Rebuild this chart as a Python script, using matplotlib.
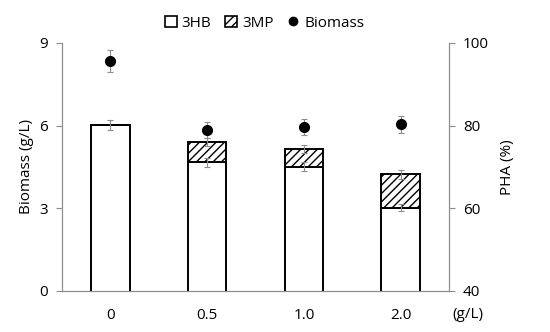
import numpy as np
import matplotlib.pyplot as plt
from matplotlib.patches import Patch
from matplotlib.lines import Line2D

plt.rcParams['font.family'] = ['Open Sans', 'DejaVu Sans']
plt.rcParams['hatch.linewidth'] = 1.0

# data
conc = ['0', '0.5', '1.0', '2.0']
hb = [80.2, 71.1, 70.1, 60.2]          # 3HB content (%)
hb_err = [1.2, 1.1, 1.0, 0.9]
total = [80.2, 76.1, 74.3, 68.2]       # 3HB + 3MP (%)
total_err = [0.0, 1.0, 1.0, 1.0]
mp = [t - h for t, h in zip(total, hb)]
biomass = [8.34, 5.85, 5.95, 6.05]     # g/L
biomass_err = [0.4, 0.28, 0.3, 0.3]

gray = '#8c8c8c'
x = np.arange(len(conc))

fig = plt.figure(figsize=(5.5, 3.32), dpi=100)
ax = fig.add_axes([0.1127, 0.1235, 0.7037, 0.747])
ax2 = ax.twinx()

# bars (PHA %) on the right axis
ax.bar(x, hb, width=0.4, color='white', edgecolor='black', linewidth=1.4, zorder=2)
ax.bar(x, mp, width=0.4, bottom=hb, color='white', edgecolor='black',
       hatch='////', linewidth=1.4, zorder=2)
ax.errorbar(x, hb, yerr=hb_err, fmt='none', ecolor=gray, elinewidth=0.8,
            capsize=2, capthick=0.8, zorder=3)
ax.errorbar(x[1:], total[1:], yerr=total_err[1:], fmt='none', ecolor=gray,
            elinewidth=0.8, capsize=2, capthick=0.8, zorder=3)
ax.set_ylim(40, 100)
ax.set_yticks([40, 60, 80, 100])
ax.yaxis.tick_right()
ax.yaxis.set_label_position('right')
ax.set_ylabel('PHA (%)', fontsize=11, labelpad=8)

# biomass on the left axis
ax2.errorbar(x, biomass, yerr=biomass_err, fmt='o', color='black', ms=7,
             ecolor=gray, elinewidth=0.8, capsize=2, capthick=0.8)
ax2.set_ylim(0, 9)
ax2.set_yticks([0, 3, 6, 9])
ax2.yaxis.tick_left()
ax2.yaxis.set_label_position('left')
ax2.set_ylabel('Biomass (g/L)', fontsize=11, labelpad=4)

ax.set_xlim(-0.5, 3.5)
ax.set_xticks(x)
ax.set_xticklabels(conc)

for a in (ax, ax2):
    a.spines['top'].set_visible(False)
    for s in ('left', 'right', 'bottom'):
        a.spines[s].set_color(gray)
        a.spines[s].set_linewidth(0.8)
    a.tick_params(axis='y', direction='out', length=4, color=gray, labelsize=11, pad=6)
    a.tick_params(axis='x', length=0, labelsize=11, pad=12)

fig.text(0.85, 0.054, '(g/L)', fontsize=11, ha='center', va='center')

handles = [Patch(facecolor='white', edgecolor='black', linewidth=1.2),
           Patch(facecolor='white', edgecolor='black', hatch='////', linewidth=1.2),
           Line2D([], [], marker='o', color='black', linestyle='none', ms=6)]
fig.legend(handles, ['3HB', '3MP', 'Biomass'], loc='center', bbox_to_anchor=(0.481, 0.93),
           ncol=3, frameon=False, fontsize=11, handlelength=0.8, handleheight=0.8,
           handletextpad=0.3, columnspacing=0.9)

fig.savefig('out.png', dpi=100)
